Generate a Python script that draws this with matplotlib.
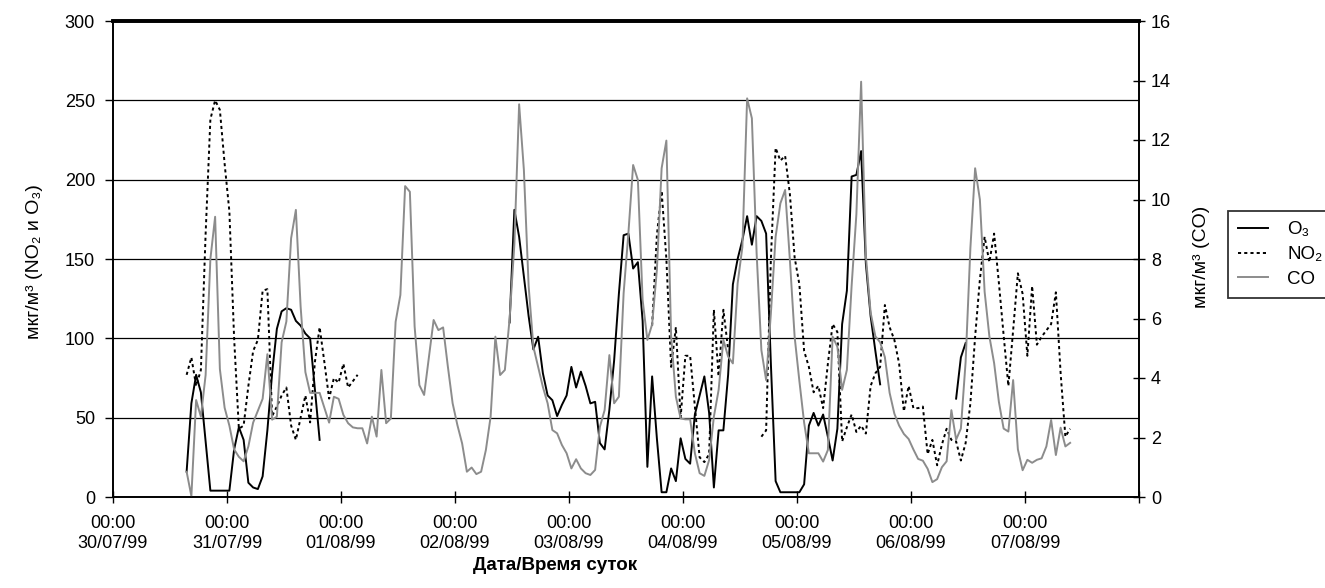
import numpy as np
import matplotlib.pyplot as plt

plt.rcParams['font.family'] = ['Liberation Sans', 'DejaVu Sans']

# hourly readings, first value at 30/07/99 15:00 (hours counted from 30/07/99 00:00)
first_hour = 15

o3 = ([16, 59, 77, 66, 35, 4, 4, 4, 4, 4, 30, 44, 36, 9, 6,
       5, 13, 42, 78, 106, 117, 119, 118, 111, 108, 103, 100, 68, 36]
      + [None] * 39
      + [110, 181, 164, 139, 114, 93, 101, 78, 64, 61,
         51, 58, 64, 82, 69, 79, 70, 59, 60, 34,
         30, 55, 86, 128, 165, 166, 144, 148, 111, 19,
         76, 37, 3, 3, 18, 10, 37, 24, 21, 52,
         64, 76, 53, 6, 42, 42, 77, 134, 150, 162,
         177, 159, 177, 174, 166, 84, 10, 3, 3, 3,
         3, 3, 8, 45, 53, 45, 52, 38, 23, 43,
         109, 130, 202, 203, 218, 147, 114, 92, 71]
      + [None] * 15
      + [62, 88, 97]
      + [None] * 22)

no2 = ([77, 88, 70, 80, 166, 238, 250, 244, 210, 180,
        100, 43, 45, 70, 92, 99, 130, 131, 51, 57,
        64, 69, 45, 36, 50, 64, 47, 85, 107, 85,
        62, 75, 72, 84, 69, 73, 77]
       + [None] * 61
       + [108, 165, 193, 150, 82, 107, 50, 89, 89, 57, 25, 22, 27, 118, 76, 118, 93]
       + [None] * 6
       + [38, 42, 150, 220, 212, 215, 191, 151, 134, 92,
          82, 66, 70, 56, 84, 109, 104, 35, 44, 52,
          41, 45, 40, 70, 78, 82, 121, 107, 99, 84,
          54, 70, 56, 56, 57, 27, 36, 20, 33, 43,
          36, 35, 23, 34, 59, 101, 137, 164, 148, 166,
          135, 102, 70, 105, 141, 128, 89, 133, 96, 101,
          105, 109, 129, 78, 38, 43])

co = [0.85, 0.03, 3.26, 2.7, 4.1, 8.0, 9.42, 4.3, 3.0, 2.4,
      1.6, 1.35, 1.2, 1.7, 2.5, 2.9, 3.3, 4.8, 2.6, 2.7,
      5.2, 5.9, 8.7, 9.65, 6.4, 4.2, 3.5, 3.5, 3.5, 3.0,
      2.5, 3.37, 3.3, 2.76, 2.48, 2.34, 2.31, 2.31, 1.8, 2.7,
      2.03, 4.27, 2.48, 2.64, 5.89, 6.79, 10.45, 10.26, 5.73, 3.76,
      3.43, 4.7, 5.95, 5.61, 5.7, 4.38, 3.15, 2.42, 1.8, 0.85,
      0.99, 0.77, 0.85, 1.58, 2.7, 5.39, 4.1, 4.27, 6.0, 8.5,
      13.2, 11.0, 7.1, 5.05, 4.38, 3.7, 3.15, 2.25, 2.14, 1.75,
      1.47, 0.96, 1.27, 0.96, 0.8, 0.74, 0.91, 2.36, 2.92, 4.77,
      3.15, 3.37, 6.85, 8.86, 11.16, 10.66, 6.62, 5.28, 5.8, 7.63,
      11.05, 11.98, 5.4, 3.37, 2.64, 2.61, 2.61, 1.47, 0.8, 0.71,
      1.24, 2.7, 3.6, 5.28, 4.72, 4.49, 7.18, 8.4, 13.4, 12.73,
      8.19, 4.94, 3.93, 6.17, 8.75, 9.87, 10.32, 7.97, 5.39, 3.9,
      2.5, 1.47, 1.47, 1.47, 1.19, 1.58, 5.39, 5.05, 3.6, 4.27,
      7.1, 9.5, 13.96, 8.1, 6.2, 5.4, 5.2, 4.7, 3.5, 2.8,
      2.4, 2.12, 1.95, 1.6, 1.28, 1.22, 0.95, 0.5, 0.6, 1.0,
      1.2, 2.92, 1.93, 2.3, 4.55, 8.36, 11.05, 10.0, 6.9, 5.4,
      4.5, 3.2, 2.3, 2.2, 3.93, 1.6, 0.9, 1.25, 1.15, 1.25,
      1.3, 1.7, 2.59, 1.41, 2.33, 1.7, 1.82]

day_labels = ['30/07/99', '31/07/99', '01/08/99', '02/08/99', '03/08/99',
              '04/08/99', '05/08/99', '06/08/99', '07/08/99']

hours = np.arange(first_hour, first_hour + len(co)) + 0.5
o3_arr = np.array([np.nan if v is None else v for v in o3], dtype=float)
no2_arr = np.array([np.nan if v is None else v for v in no2], dtype=float)
co_arr = np.array(co, dtype=float)

fig = plt.figure(figsize=(13.25, 5.88), dpi=100)
ax = fig.add_axes([113 / 1325, 1 - 497 / 588, (1139 - 113) / 1325, (497 - 21) / 588])
ax2 = ax.twinx()

l1, = ax.plot(hours, o3_arr, color='black', lw=1.4)
l2, = ax.plot(hours, no2_arr, color='black', lw=1.4, ls=(0, (1.6, 1.6)))
l3, = ax2.plot(hours, co_arr, color='#8c8c8c', lw=1.4)

ax.set_xlim(0, 216)
ax.set_ylim(0, 300)
ax2.set_ylim(0, 16)
ax.set_yticks(range(0, 301, 50))
ax2.set_yticks(range(0, 17, 2))
ax.set_xticks(range(0, 217, 24))
ax.set_xticklabels(['00:00\n' + d for d in day_labels] + [''])

ax.yaxis.grid(True, color='black', lw=0.9)
ax.set_axisbelow(True)

for a in (ax, ax2):
    for s in a.spines.values():
        s.set_color('black')
        s.set_linewidth(1.2)
    a.spines['top'].set_linewidth(2.6)

ax.tick_params(axis='y', direction='out', length=6, width=1, labelsize=13, pad=7)
ax.tick_params(axis='x', direction='inout', length=8, width=1, labelsize=13, pad=9)
ax2.tick_params(axis='y', direction='inout', length=9, width=1, labelsize=13, pad=4)

fig.text(35 / 1325, 1 - 262 / 588, 'мкг/м³ (NO₂ и O₃)', rotation=90,
         ha='center', va='center', fontsize=14)
fig.text(1202 / 1325, 1 - 257 / 588, 'мкг/м³ (CO)', rotation=90,
         ha='center', va='center', fontsize=14)
fig.text(555 / 1325, 1 - 565 / 588, 'Дата/Время суток', ha='center', va='center',
         fontsize=13.5, fontweight='bold')

leg = fig.legend([l1, l2, l3], ['O₃', 'NO₂', 'CO'], loc='upper left',
                 bbox_to_anchor=(1228 / 1325, 1 - 211 / 588), fontsize=13.5,
                 frameon=True, fancybox=False, edgecolor='black',
                 handlelength=1.6, handletextpad=1.0, labelspacing=0.4,
                 borderpad=0.55, borderaxespad=0)
leg.get_frame().set_linewidth(1.3)

fig.savefig('out.png', dpi=100)
